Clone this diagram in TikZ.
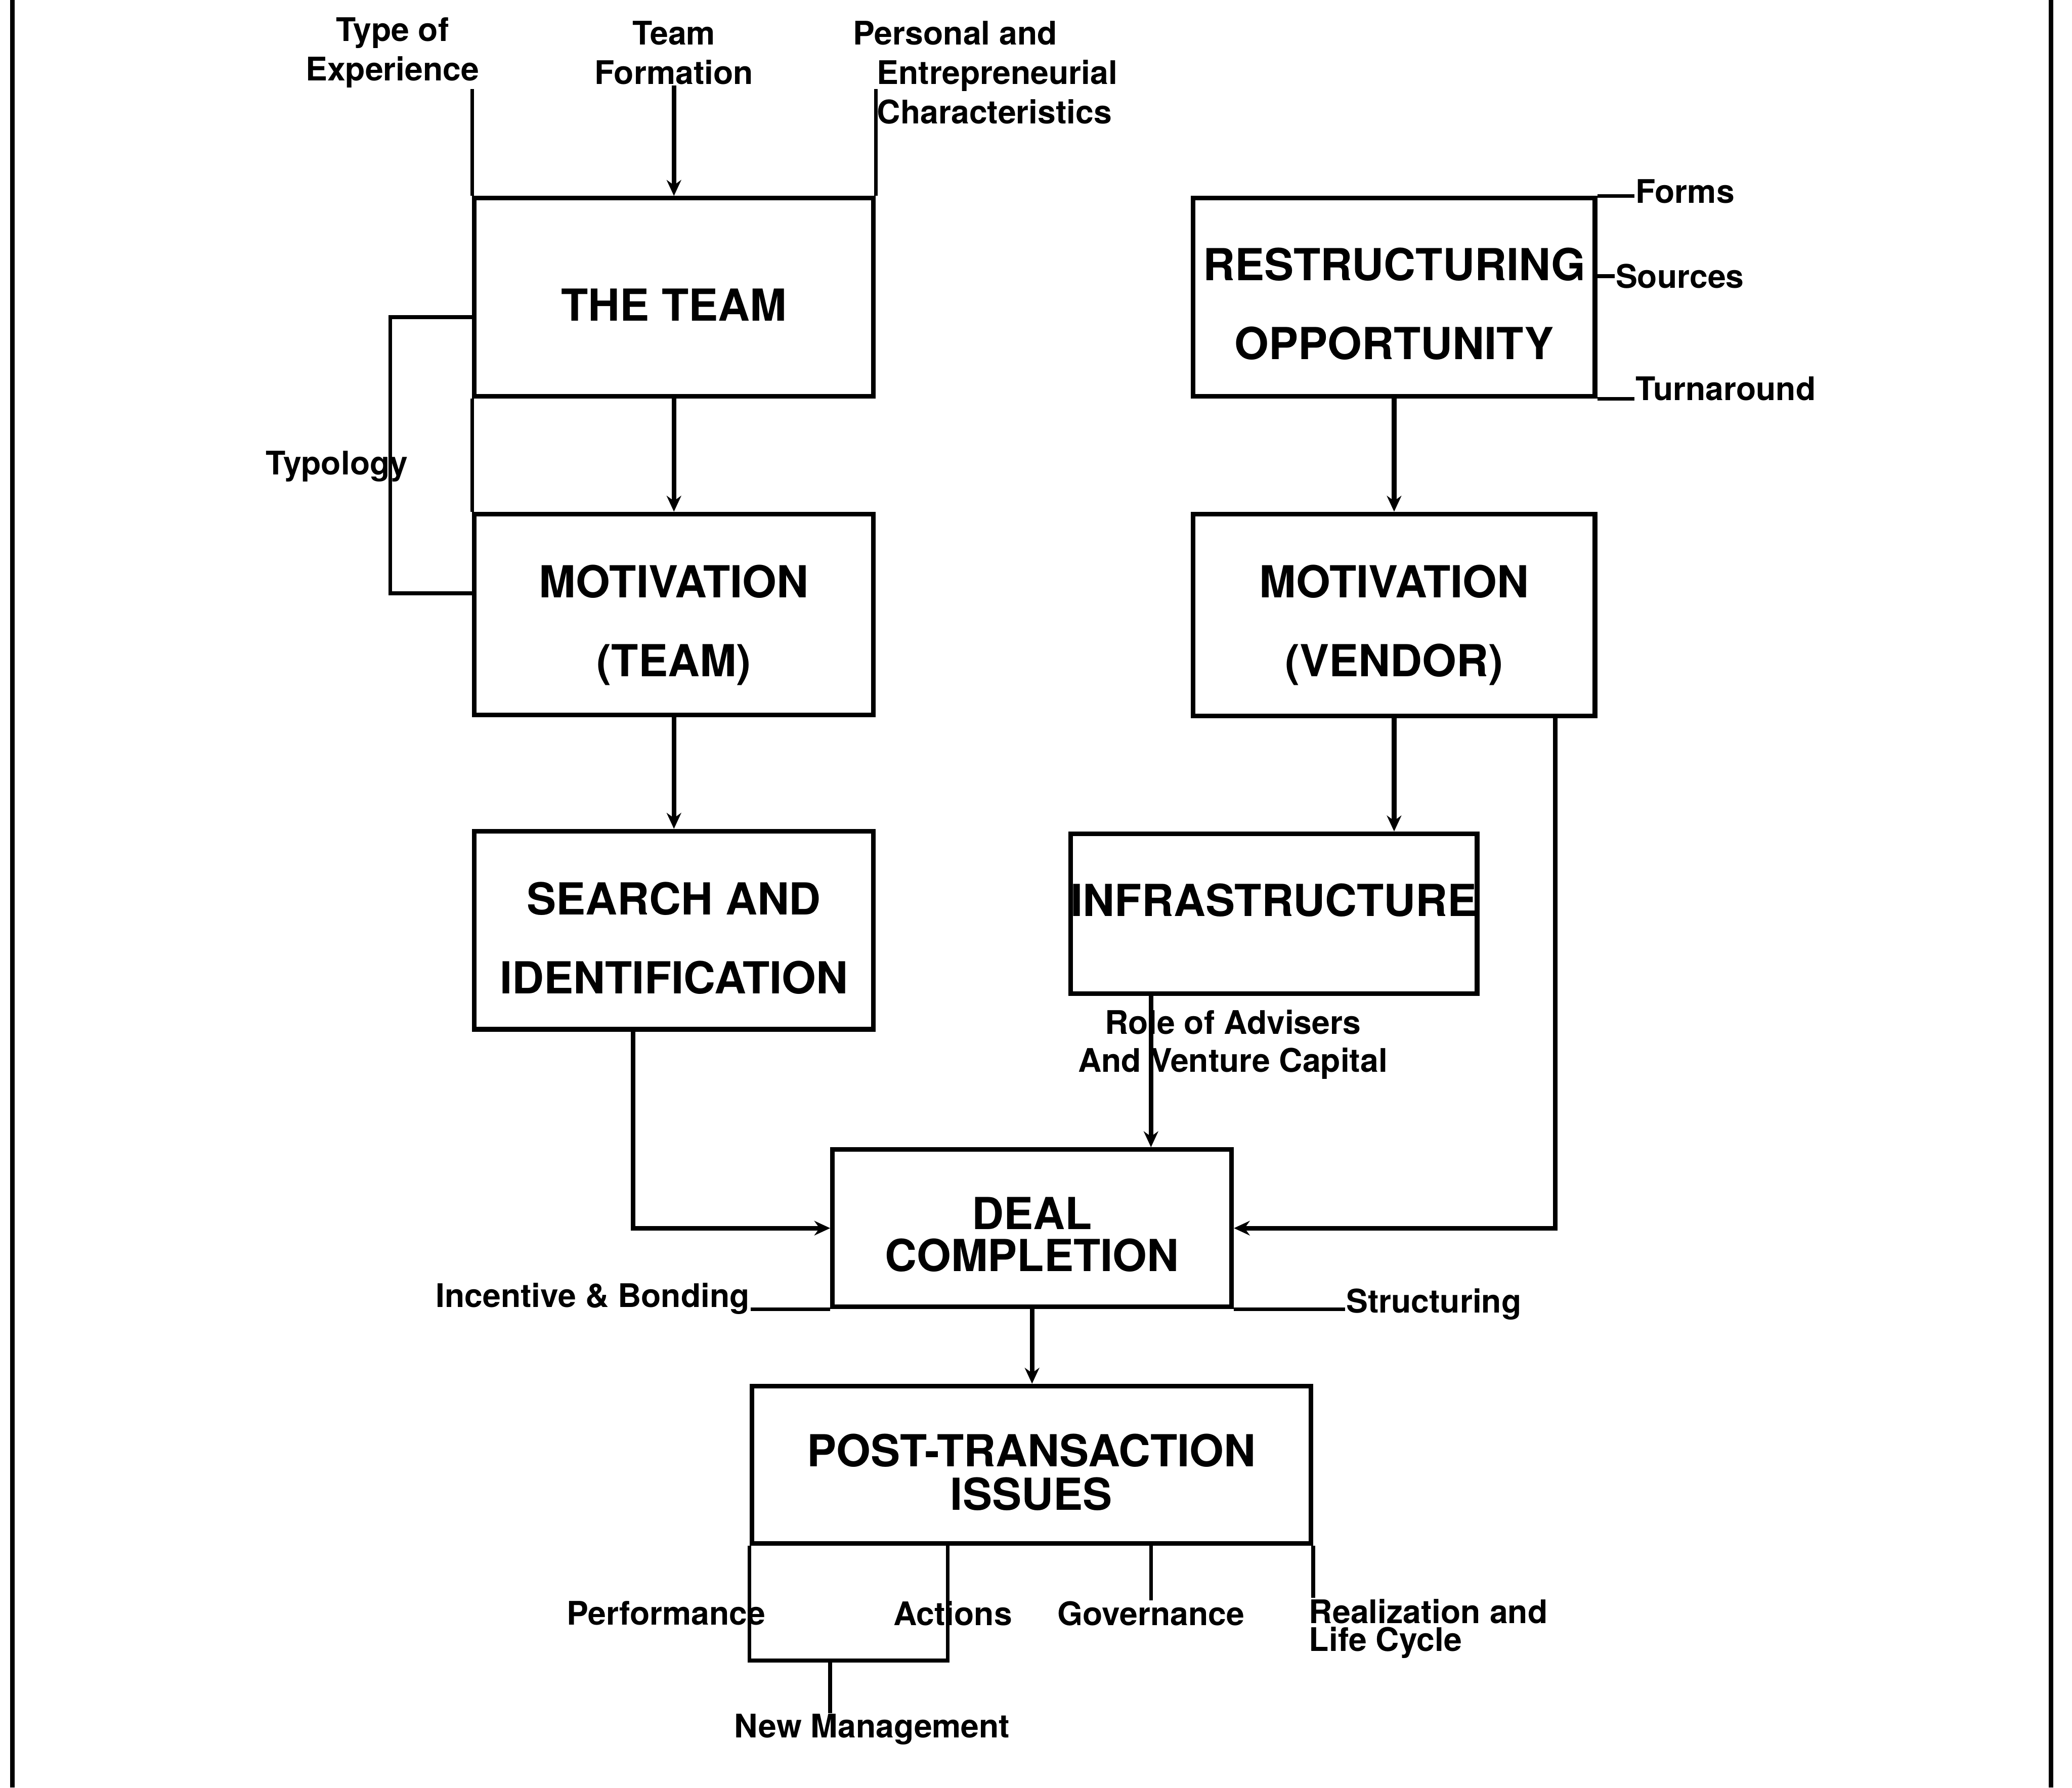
\documentclass[tikz,border=0pt]{standalone}
\usepackage{fontspec}
\setmainfont{TeX Gyre Heros}
\usepackage{tikz}
\usetikzlibrary{arrows.meta,calc}
\tikzset{
  block/.style={draw, line width=1pt, inner sep=0pt, align=center, text depth=0pt,
              font=\bfseries\fontsize{9.5}{17}\selectfont},
  note/.style={inner sep=0pt, align=center, font=\bfseries\fontsize{7}{8.5}\selectfont},
  flow/.style={-{Stealth[length=1.2mm,width=1.1mm]}, line width=1pt},
  link/.style={line width=0.8pt},
}

\begin{document}
\begin{tikzpicture}[tight/.style={font=\bfseries\fontsize{9.5}{9}\selectfont}]
        \useasboundingbox (0,0) rectangle (15.68,-13.53);
        \draw[line width=1pt] (0.095,0) -- (0.095,-13.53);
        \draw[line width=1pt] (15.52,0) -- (15.52,-13.53);
        \node[block, text height=0.36cm, minimum width=3.02cm, minimum height=1.50cm] (team)   at (5.10,-2.25)   {THE TEAM};
        \node[block, text height=0.94cm, minimum width=3.02cm, minimum height=1.52cm] (motT)   at (5.10,-4.65)   {MOTIVATION\\(TEAM)};
        \node[block, text height=0.96cm, minimum width=3.02cm, minimum height=1.50cm] (search) at (5.10,-7.04)   {SEARCH AND\\IDENTIFICATION};
        \node[block, text height=0.94cm, minimum width=3.04cm, minimum height=1.50cm] (restr)  at (10.55,-2.25)  {RESTRUCTURING\\OPPORTUNITY};
        \node[block, text height=0.93cm, minimum width=3.04cm, minimum height=1.53cm] (motV)   at (10.55,-4.655) {MOTIVATION\\(VENDOR)};
        \node[block, minimum width=3.06cm, minimum height=1.21cm, text depth=0.21cm] (infra) at (9.64,-6.915) {INFRASTRUCTURE};
        \node[block, tight, text height=0.65cm, minimum width=3.02cm, minimum height=1.19cm] (deal) at (7.81,-9.295) {DEAL\\COMPLETION};
        \node[block, font=\bfseries\fontsize{9.5}{9.4}\selectfont, text height=0.69cm, minimum width=4.23cm, minimum height=1.19cm] (post) at (7.805,-11.085) {POST-TRANSACTION\\ISSUES};
        \node[note] (exp)  at (2.97,-0.40) {Type of\\Experience};
        \node[note] (form) at (5.10,-0.40) {Team\\Formation};
        \node[note, align=left, anchor=west] (pers) at (6.63,-0.55) {\hspace*{-1.8mm}Personal and\\Entrepreneurial\\Characteristics};
        \node[note] (typ) at (2.55,-3.53) {Typology};
        \node[note, anchor=west] (forms)   at (12.37,-1.45) {Forms};
        \node[note, anchor=west] (sources) at (12.22,-2.09) {Sources};
        \node[note, anchor=west] (turn)    at (12.37,-2.94) {Turnaround};
        \node[note, font=\bfseries\fontsize{7}{8.2}\selectfont] (role) at (9.33,-7.905) {Role of Advisers\\And Venture Capital};
        \node[note, anchor=east] (incent) at (5.68,-9.83) {Incentive \& Bonding};
        \node[note, anchor=west] (struct) at (10.18,-9.87) {Structuring};
        \node[note, anchor=east] (perf) at (5.80,-12.21) {Performance};
        \node[note] (act) at (7.21,-12.21) {Actions};
        \node[note] (gov) at (8.71,-12.21) {Governance};
        \node[note, align=left, anchor=west, font=\bfseries\fontsize{7}{6}\selectfont] (real) at (9.90,-12.325) {Realization and\\Life Cycle};
        \node[note] (newm) at (6.60,-13.09) {New Management};
        \coordinate (nm) at ([xshift=6.1mm,yshift=-8.7mm]post.south west);
        \draw[link] (team.north west) -- (team.north west |- exp.south);
        \draw[flow] (form.south) -- (team.north);
        \draw[link] (team.north east) -- (team.north east |- exp.south);
        \draw[link] (team.south west) -- (motT.north west);
        \draw[link] ([yshift=-1.5mm]team.west) -- ++(-0.62,0) |- ([yshift=1.6mm]motT.west);
        \draw[flow] (team.south) -- (motT.north);
        \draw[flow] (motT.south) -- (search.north);
        \draw[flow] ([xshift=-3.1mm]search.south) |- (deal.west);
        \draw[link] (restr.north east) -- (restr.north east -| forms.west);
        \draw[link] (restr.east |- sources.west) -- (sources.west);
        \draw[link] (restr.south east) -- (restr.south east -| turn.west);
        \draw[flow] (restr.south) -- (motV.north);
        \draw[flow] (motV.south) -- (motV.south |- infra.north);
        \draw[flow] ([xshift=12.2mm]motV.south) |- (deal.east);
        \draw[flow] ([xshift=9mm]deal.north |- infra.south) -- ([xshift=9mm]deal.north);
        \draw[link] (deal.south west) -- (deal.south west -| incent.east);
        \draw[link] (deal.south east) -- (deal.south east -| struct.west);
        \draw[flow] (deal.south) -- (deal.south |- post.north);
        \draw[link] (post.south west) -- ++(0,-0.87) -| ([xshift=15mm]post.south west);
        \draw[link] (nm) -- (nm |- newm.north);
        \draw[link] (post.south -| gov.north) -- (gov.north);
        \draw[link] (post.south east) -- (post.south east |- real.north);
\end{tikzpicture}
\end{document}
